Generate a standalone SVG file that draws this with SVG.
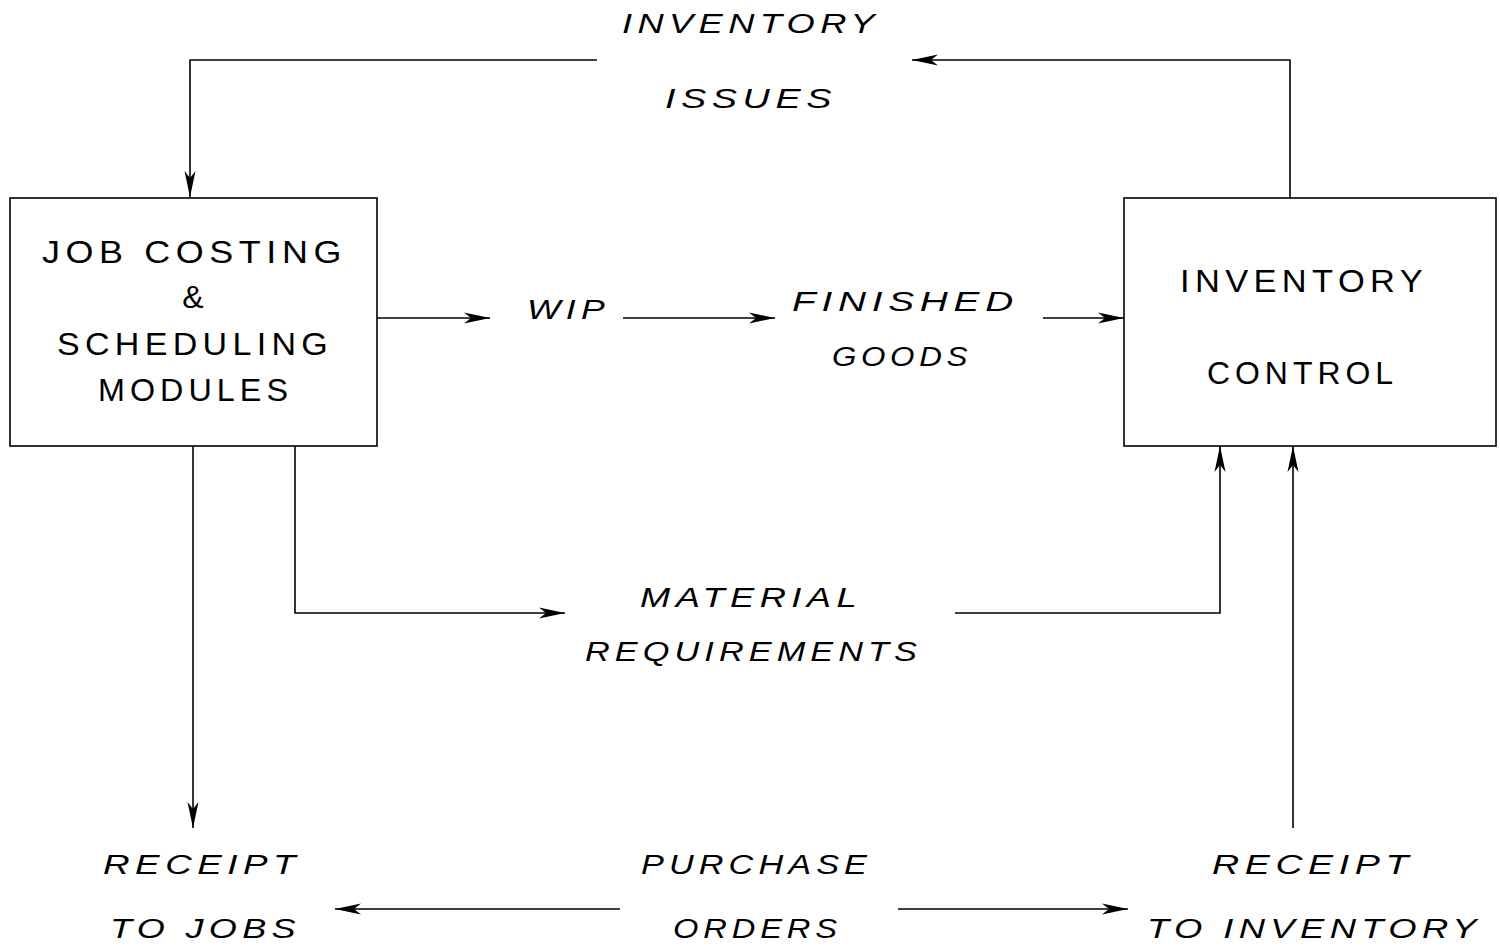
<svg xmlns="http://www.w3.org/2000/svg" width="1500" height="948" viewBox="0 0 1500 948">
<defs>
<marker id="arr" markerUnits="userSpaceOnUse" markerWidth="28" markerHeight="12" refX="26" refY="6" orient="auto">
<path d="M0,0.5 L26,6 L0,11.5 L7,6 Z" fill="#000"/>
</marker>
</defs>
<style>
.box{fill:#fff;stroke:#000;stroke-width:1.6}
.ln{fill:none;stroke:#000;stroke-width:1.6}
.bt{font-family:"Liberation Sans",Arial,sans-serif;font-size:32px;letter-spacing:5px;fill:#000}
.lt{font-family:"Liberation Sans",Arial,sans-serif;font-size:27px;letter-spacing:4px;font-style:italic;fill:#000}
</style>
<rect width="1500" height="948" fill="#fff"/>
<g id="connectors">
<path class="ln" d="M1290,198 L1290,60 L912,60" marker-end="url(#arr)"/>
<path class="ln" d="M597,60 L190,60 L190,197" marker-end="url(#arr)"/>
<path class="ln" d="M377,318 L490,318" marker-end="url(#arr)"/>
<path class="ln" d="M623,318 L775,318" marker-end="url(#arr)"/>
<path class="ln" d="M1043,318 L1124,318" marker-end="url(#arr)"/>
<path class="ln" d="M295,446 L295,613 L565,613" marker-end="url(#arr)"/>
<path class="ln" d="M955,613 L1220,613 L1220,446" marker-end="url(#arr)"/>
<path class="ln" d="M193,446 L193,828" marker-end="url(#arr)"/>
<path class="ln" d="M1293,828 L1293,446" marker-end="url(#arr)"/>
<path class="ln" d="M620,909 L335,909" marker-end="url(#arr)"/>
<path class="ln" d="M898,909 L1128,909" marker-end="url(#arr)"/>
</g>
<g id="job-costing">
<rect class="box" x="10" y="198" width="367" height="248"/>
<text class="bt" x="42" y="263" textLength="305" lengthAdjust="spacingAndGlyphs">JOB COSTING</text>
<text class="bt" x="193" y="308" text-anchor="middle" style="letter-spacing:0">&amp;</text>
<text class="bt" x="57" y="355" textLength="276" lengthAdjust="spacingAndGlyphs">SCHEDULING</text>
<text class="bt" x="98" y="401" textLength="195" lengthAdjust="spacingAndGlyphs">MODULES</text>
</g>
<g id="inventory-control">
<rect class="box" x="1124" y="198" width="372" height="248"/>
<text class="bt" x="1180" y="292" textLength="248" lengthAdjust="spacingAndGlyphs">INVENTORY</text>
<text class="bt" x="1207" y="384" textLength="191" lengthAdjust="spacingAndGlyphs">CONTROL</text>
</g>
<g id="labels">
<text class="lt" x="622" y="33" textLength="258" lengthAdjust="spacingAndGlyphs">INVENTORY</text>
<text class="lt" x="665" y="108" textLength="172" lengthAdjust="spacingAndGlyphs">ISSUES</text>
<text class="lt" x="527" y="319" textLength="83" lengthAdjust="spacingAndGlyphs">WIP</text>
<text class="lt" x="792" y="311" textLength="227" lengthAdjust="spacingAndGlyphs">FINISHED</text>
<text class="lt" x="832" y="366" textLength="140" lengthAdjust="spacingAndGlyphs">GOODS</text>
<text class="lt" x="640" y="607" textLength="222" lengthAdjust="spacingAndGlyphs">MATERIAL</text>
<text class="lt" x="585" y="661" textLength="337" lengthAdjust="spacingAndGlyphs">REQUIREMENTS</text>
<text class="lt" x="103" y="874" textLength="198" lengthAdjust="spacingAndGlyphs">RECEIPT</text>
<text class="lt" x="110" y="938" textLength="191" lengthAdjust="spacingAndGlyphs">TO JOBS</text>
<text class="lt" x="641" y="874" textLength="231" lengthAdjust="spacingAndGlyphs">PURCHASE</text>
<text class="lt" x="673" y="938" textLength="169" lengthAdjust="spacingAndGlyphs">ORDERS</text>
<text class="lt" x="1212" y="874" textLength="202" lengthAdjust="spacingAndGlyphs">RECEIPT</text>
<text class="lt" x="1147" y="938" textLength="335" lengthAdjust="spacingAndGlyphs">TO INVENTORY</text>
</g>
</svg>
